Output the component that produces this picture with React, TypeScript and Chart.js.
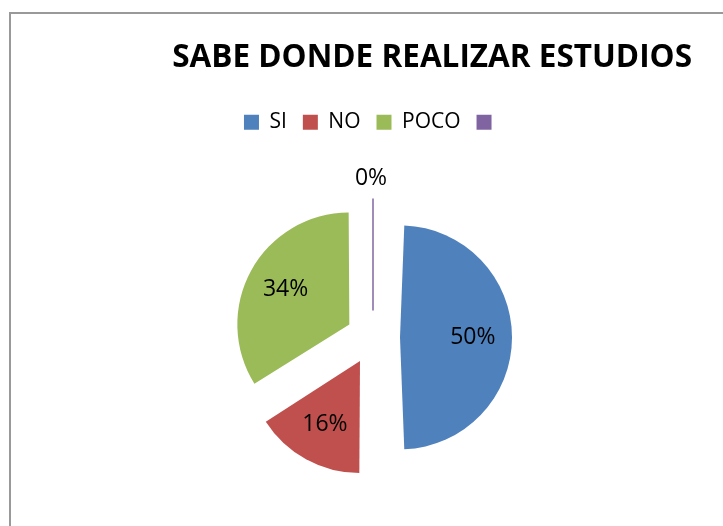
import React, { useEffect, useRef } from 'react';
import { Chart, registerables } from 'chart.js';

Chart.register(...registerables);

const categories: string[] = ['SI', 'NO', 'POCO', ''];
const values: number[] = [50, 16, 34, 0];
const colors: string[] = ['#4F81BD', '#C0504D', '#9BBB59', '#8064A2'];
const titleText = 'SABE DONDE REALIZAR ESTUDIOS';

const EXPLODE = 27;
const RADIUS = 112;
const FONT = "'Open Sans', 'DejaVu Sans', sans-serif";

export default function App() {
  const ref = useRef<HTMLCanvasElement>(null);

  useEffect(() => {
    if (!ref.current) return;
    const total = values.reduce((a, b) => a + b, 0);
    // Chart.js grows an offset arc's radius by (offset/4)*fix; compensate so all slices share RADIUS
    const fixes = values.map((v) => {
      const c = (v / total) * 2 * Math.PI;
      return 1 - Math.sin(Math.min(Math.PI, c));
    });
    const offsets = values.map(() => 4 * EXPLODE);

    const explodePlugin = {
      id: 'explodeFix',
      beforeDatasetsDraw(chart: any) {
        const meta = chart.getDatasetMeta(0);
        const base = meta.controller.outerRadius;
        meta.data.forEach((arc: any, i: number) => {
          arc.outerRadius = base - EXPLODE * fixes[i];
        });
      },
    };

    const labelPlugin = {
      id: 'sliceLabels',
      afterDatasetsDraw(chart: any) {
        const ctx = chart.ctx;
        const meta = chart.getDatasetMeta(0);
        const r = meta.controller.outerRadius;
        ctx.save();
        ctx.font = `23px ${FONT}`;
        ctx.fillStyle = '#000';
        ctx.textAlign = 'center';
        ctx.textBaseline = 'middle';
        meta.data.forEach((arc: any, i: number) => {
          const { x, y, startAngle, endAngle } = arc;
          const mid = (startAngle + endAngle) / 2;
          const cx = x + Math.cos(mid) * EXPLODE;
          const cy = y + Math.sin(mid) * EXPLODE;
          const v = values[i];
          const txt = Math.round((v / total) * 100) + '%';
          if (v === 0) {
            ctx.strokeStyle = colors[i];
            ctx.lineWidth = 1.5;
            ctx.beginPath();
            ctx.moveTo(cx, cy);
            ctx.lineTo(cx + Math.cos(mid) * r, cy + Math.sin(mid) * r);
            ctx.stroke();
            const lr = r + 20;
            ctx.fillText(txt, cx + Math.cos(mid) * lr - 2, cy + Math.sin(mid) * lr);
          } else {
            const lr = r * 0.65;
            ctx.fillText(txt, cx + Math.cos(mid) * lr, cy + Math.sin(mid) * lr);
          }
        });
        ctx.restore();
      },
    };

    const chart = new Chart(ref.current, {
      type: 'pie',
      data: {
        labels: categories,
        datasets: [
          {
            data: values,
            backgroundColor: colors,
            borderWidth: 0,
            offset: offsets,
            radius: RADIUS,
          } as any,
        ],
      },
      options: {
        animation: false,
        responsive: false,
        devicePixelRatio: 1,
        events: [],
        layout: { padding: { left: 54, right: 31, top: 0, bottom: 30 } },
        plugins: {
          title: {
            display: true,
            text: titleText,
            align: 'end',
            color: '#000',
            font: { family: FONT, size: 31.5, weight: 'bold' },
            padding: { top: 39, bottom: 19 },
          },
          legend: {
            display: true,
            position: 'top',
            labels: {
              color: '#000',
              font: { family: FONT, size: 21 },
              boxWidth: 15,
              boxHeight: 15,
              padding: 16,
            },
          },
          tooltip: { enabled: false },
        },
      } as any,
      plugins: [explodePlugin, labelPlugin],
    });
    return () => chart.destroy();
  }, []);

  return (
    <div
      style={{
        position: 'absolute',
        left: 0,
        top: 0,
        width: 723,
        height: 526,
        overflow: 'hidden',
        background: '#fff',
      }}
    >
      <div
        style={{
          position: 'absolute',
          left: 9,
          top: 12,
          width: 900,
          height: 900,
          borderLeft: '2px solid #999',
          borderTop: '2px solid #999',
        }}
      />
      <canvas
        ref={ref}
        width={723}
        height={562}
        style={{ position: 'absolute', left: 0, top: 0, width: 723, height: 562 }}
      />
    </div>
  );
}
